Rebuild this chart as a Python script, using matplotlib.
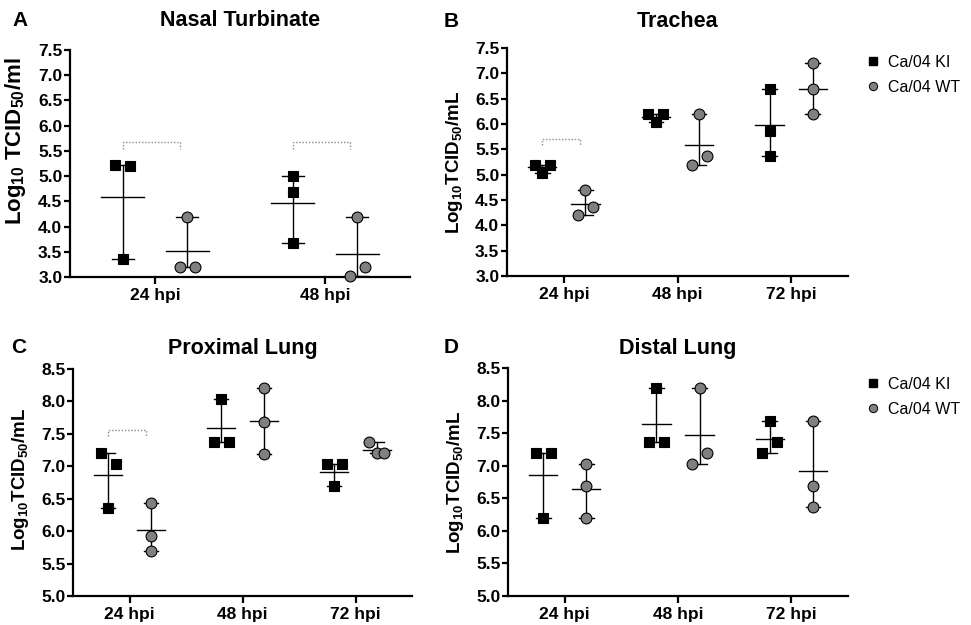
import numpy as np
import matplotlib
matplotlib.use("Agg")
import matplotlib.pyplot as plt
from matplotlib.lines import Line2D

plt.rcParams['font.family'] = ['Liberation Sans', 'DejaVu Sans']
plt.rcParams['mathtext.fontset'] = 'custom'
plt.rcParams['mathtext.rm'] = 'Liberation Sans:bold'
plt.rcParams['mathtext.bf'] = 'Liberation Sans:bold'
plt.rcParams['mathtext.default'] = 'bf'

# ---- data (log10 TCID50 per animal) ----
nasal_times = ['24 hpi', '48 hpi']
nasal_ki = [[5.22, 5.20, 3.35], [5.01, 4.69, 3.68]]
nasal_wt = [[4.18, 3.19, 3.19], [4.18, 3.01, 3.19]]

trachea_times = ['24 hpi', '48 hpi', '72 hpi']
trachea_ki = [[5.20, 5.03, 5.20], [6.20, 6.03, 6.20], [6.70, 5.86, 5.36]]
trachea_wt = [[4.70, 4.20, 4.36], [6.20, 5.20, 5.37], [7.20, 6.70, 6.20]]

prox_times = ['24 hpi', '48 hpi', '72 hpi']
prox_ki = [[7.20, 7.03, 6.36], [8.03, 7.37, 7.37], [7.03, 6.69, 7.03]]
prox_wt = [[6.43, 5.92, 5.70], [8.20, 7.69, 7.19], [7.37, 7.20, 7.20]]

distal_times = ['24 hpi', '48 hpi', '72 hpi']
distal_ki = [[7.19, 7.19, 6.19], [8.19, 7.37, 7.37], [7.69, 7.19, 7.36]]
distal_wt = [[7.03, 6.69, 6.19], [8.19, 7.03, 7.20], [7.69, 6.69, 6.36]]

# dotted brackets (time index, height)
nasal_brackets = [(0, 5.67), (1, 5.67)]
trachea_brackets = [(0, 5.71)]
prox_brackets = [(0, 7.56)]
distal_brackets = []

W, H = 971, 625
fig = plt.figure(figsize=(W / 100, H / 100), dpi=100)

def box(l, t, r, b):
    return [l / W, (H - b) / H, (r - l) / W, (b - t) / H]

panels = [
    dict(letter='A', title='Nasal Turbinate', times=nasal_times, ki=nasal_ki, wt=nasal_wt,
         br=nasal_brackets, ylim=(3.0, 7.5), rect=box(70, 50, 410, 277),
         ylabel='Log$_{10}$ TCID$_{50}$/ml', ylsize=16, ylpos=0.6, pad=17, lxy=(12, 26)),
    dict(letter='B', title='Trachea', times=trachea_times, ki=trachea_ki, wt=trachea_wt,
         br=trachea_brackets, ylim=(3.0, 7.5), rect=box(507, 48, 848, 276),
         ylabel='Log$_{10}$TCID$_{50}$/mL', ylsize=13.5, ylpos=0.5, pad=15, lxy=(444, 27)),
    dict(letter='C', title='Proximal Lung', times=prox_times, ki=prox_ki, wt=prox_wt,
         br=prox_brackets, ylim=(5.0, 8.5), rect=box(73, 369, 412, 596),
         ylabel='Log$_{10}$TCID$_{50}$/mL', ylsize=13.5, ylpos=0.515, pad=11, lxy=(11, 353)),
    dict(letter='D', title='Distal Lung', times=distal_times, ki=distal_ki, wt=distal_wt,
         br=distal_brackets, ylim=(5.0, 8.5), rect=box(508, 368, 848, 596),
         ylabel='Log$_{10}$TCID$_{50}$/mL', ylsize=13.5, ylpos=0.5, pad=10, lxy=(444, 353)),
]

off = 0.19          # group offset from tick
mean_hw = 0.125     # half width of mean line
cap_hw = 0.065      # half width of range caps


def swarm(vals, x0, px_x, px_y, step_px=7.5, gap_px=12):
    # spread overlapping points horizontally, left to right in data order
    vals = np.asarray(vals)
    xs = np.full(len(vals), x0, dtype=float)
    order = np.argsort(vals)
    clusters = [[order[0]]]
    for i in order[1:]:
        if (vals[i] - vals[clusters[-1][-1]]) * px_y < gap_px:
            clusters[-1].append(i)
        else:
            clusters.append([i])
    for c in clusters:
        if len(c) > 1:
            c = sorted(c)
            offs = np.linspace(-step_px, step_px, len(c)) / px_x
            for j, k in enumerate(c):
                xs[k] = x0 + offs[j]
    return xs


for p in panels:
    ax = fig.add_axes(p['rect'])
    n = len(p['times'])
    ax.set_xlim(-0.5, n - 0.5)
    ax.set_ylim(*p['ylim'])
    px_x = p['rect'][2] * W / n
    px_y = p['rect'][3] * H / (p['ylim'][1] - p['ylim'][0])

    for vals_all, sign, mk, fc, ms in [(p['ki'], -1, 's', 'black', 6.8),
                                       (p['wt'], 1, 'o', '#808080', 7.8)]:
        for i, vals in enumerate(vals_all):
            xc = i + sign * off
            m = np.mean(vals)
            lo, hi = min(vals), max(vals)
            ax.plot([xc, xc], [lo, hi], color='black', lw=1.0, zorder=2, clip_on=False)
            ax.plot([xc - cap_hw, xc + cap_hw], [lo, lo], color='black', lw=1.0, zorder=2, clip_on=False)
            ax.plot([xc - cap_hw, xc + cap_hw], [hi, hi], color='black', lw=1.0, zorder=2, clip_on=False)
            ax.plot([xc - mean_hw, xc + mean_hw], [m, m], color='black', lw=1.0, zorder=2)
            xs = swarm(vals, xc, px_x, px_y)
            ax.plot(xs, vals, linestyle='none', marker=mk, ms=ms, mfc=fc, mec='black',
                    mew=0.8, zorder=3, clip_on=False)

    tip = 6.5 / px_y
    for i, yb in p['br']:
        ax.plot([i - off, i - off, i + 0.145, i + 0.145], [yb - tip, yb, yb, yb - tip],
                color='#8a8a8a', lw=1.0, linestyle=(0, (1, 1.3)))

    for s in ['top', 'right']:
        ax.spines[s].set_visible(False)
    for s in ['left', 'bottom']:
        ax.spines[s].set_linewidth(1.6)
    ax.set_xticks(range(n))
    ax.set_xticklabels(p['times'], fontsize=12.5, fontweight='bold')
    yt = np.arange(p['ylim'][0], p['ylim'][1] + 0.01, 0.5)
    ax.set_yticks(yt)
    ax.set_yticklabels(['%.1f' % v for v in yt], fontsize=12.5, fontweight='bold')
    ax.tick_params(axis='y', length=4, width=1.6, pad=1.5)
    ax.tick_params(axis='x', length=5, width=1.6, pad=3)
    ax.set_ylabel(p['ylabel'], fontsize=p['ylsize'], fontweight='bold')
    ax.yaxis.set_label_coords(-0.123, p['ylpos'])
    ax.set_title(p['title'], fontsize=15.5, fontweight='bold', pad=p['pad'])
    fig.text(p['lxy'][0] / W, 1 - p['lxy'][1] / H, p['letter'], fontsize=15,
             fontweight='bold', ha='left', va='baseline')

    if p['letter'] in ('B', 'D'):
        handles = [Line2D([], [], linestyle='none', marker='s', ms=5.2, mfc='black', mec='black'),
                   Line2D([], [], linestyle='none', marker='o', ms=6.0, mfc='#808080', mec='black', mew=0.7)]
        top = 55 if p['letter'] == 'B' else 377
        ax.legend(handles, ['Ca/04 KI', 'Ca/04 WT'], loc='upper left',
                  bbox_to_anchor=(865 / W, 1 - top / H), bbox_transform=fig.transFigure,
                  frameon=False, fontsize=11.5, handlelength=1.0, handletextpad=0.45,
                  labelspacing=0.6, borderpad=0, borderaxespad=0)

fig.savefig('out.png', dpi=100)
